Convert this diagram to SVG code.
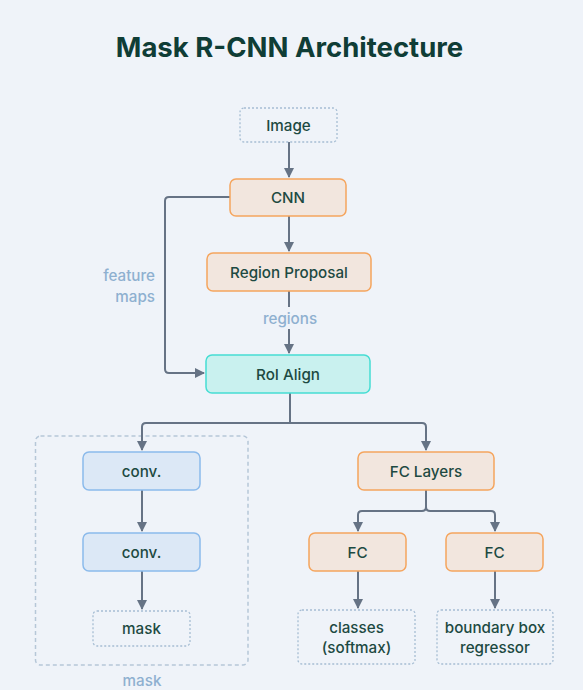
<svg xmlns="http://www.w3.org/2000/svg" width="583" height="690" viewBox="0 0 583 690">
<defs>
<style>
.bg{fill:#eff3f9}
.title{font-family:Inter,"Noto Sans",sans-serif;font-size:27.5px;font-weight:700;fill:#0f3d36;text-anchor:middle}
.t{font-family:Inter,"Noto Sans",sans-serif;font-size:15.2px;font-weight:500;fill:#1d4a42;text-anchor:middle;dominant-baseline:central}
.lbl{font-family:Inter,"Noto Sans",sans-serif;font-size:15.2px;font-weight:500;fill:#8eb0d0;dominant-baseline:central}
.orange{fill:#f2e6de;stroke:#f5a55e;stroke-width:1.5}
.cyan{fill:#c9f1ef;stroke:#45ddd3;stroke-width:1.5}
.blue{fill:#dce8f6;stroke:#8bbaeb;stroke-width:1.5}
.dot{fill:none;stroke:#a6bdd3;stroke-width:1.3;stroke-dasharray:2 2}
.group{fill:none;stroke:#b6c7d8;stroke-width:1.5;stroke-dasharray:4 3}
.e{fill:none;stroke:#667385;stroke-width:2}
</style>
<marker id="arr" viewBox="0 0 10 10" refX="9" refY="5" markerWidth="5" markerHeight="5" orient="auto" markerUnits="strokeWidth">
<path d="M0,0 L10,5 L0,10 z" fill="#667385"/>
</marker>
</defs>
<rect class="bg" x="0" y="0" width="583" height="690"/>
<text class="title" x="289.5" y="57">Mask R-CNN Architecture</text>

<g id="mask-group">
<rect class="group" x="35.5" y="436" width="212.5" height="229" rx="5"/>
<text class="lbl" x="142" y="680" text-anchor="middle">mask</text>
</g>

<g id="connectors">
<path class="e" d="M289 142 V177" marker-end="url(#arr)"/>
<path class="e" d="M289 216 V251" marker-end="url(#arr)"/>
<path class="e" d="M289 291 V353" marker-end="url(#arr)"/>
<path class="e" d="M230 197 H169 Q165 197 165 201 V369 Q165 373 169 373 H204" marker-end="url(#arr)"/>
<path class="e" d="M290 393 V423 H146 Q142 423 142 427 V450" marker-end="url(#arr)"/>
<path class="e" d="M290 423 H422 Q426 423 426 427 V450" marker-end="url(#arr)"/>
<path class="e" d="M142 490 V531" marker-end="url(#arr)"/>
<path class="e" d="M142 571 V609" marker-end="url(#arr)"/>
<path class="e" d="M426 490 V507 Q426 511 422 511 H362 Q358 511 358 515 V531" marker-end="url(#arr)"/>
<path class="e" d="M426 507 Q426 511 430 511 H491 Q495 511 495 515 V531" marker-end="url(#arr)"/>
<path class="e" d="M358 571 V608" marker-end="url(#arr)"/>
<path class="e" d="M495 571 V608" marker-end="url(#arr)"/>
<text class="lbl" x="155" y="275" text-anchor="end">feature</text>
<text class="lbl" x="155" y="296" text-anchor="end">maps</text>
<rect x="255" y="307" width="70" height="22" fill="#eff3f9"/>
<text class="lbl" x="290" y="318" text-anchor="middle">regions</text>
</g>

<g id="image"><rect class="dot" x="240" y="108" width="97" height="34" rx="4"/><text class="t" x="288.5" y="125">Image</text></g>
<g id="cnn"><rect class="orange" x="230" y="179" width="116" height="37" rx="6"/><text class="t" x="288" y="197.5">CNN</text></g>
<g id="region-proposal"><rect class="orange" x="207" y="253" width="164" height="38" rx="6"/><text class="t" x="289" y="272">Region Proposal</text></g>
<g id="roi-align"><rect class="cyan" x="206" y="355" width="164" height="38" rx="6"/><text class="t" x="288" y="374">RoI Align</text></g>
<g id="conv1"><rect class="blue" x="83" y="452" width="117" height="38" rx="6"/><text class="t" x="141.5" y="471">conv.</text></g>
<g id="conv2"><rect class="blue" x="83" y="533" width="117" height="38" rx="6"/><text class="t" x="141.5" y="552">conv.</text></g>
<g id="mask"><rect class="dot" x="93" y="611" width="97" height="35" rx="4"/><text class="t" x="141.5" y="628.5">mask</text></g>
<g id="fc-layers"><rect class="orange" x="358" y="452" width="136" height="38" rx="6"/><text class="t" x="426" y="471">FC Layers</text></g>
<g id="fc1"><rect class="orange" x="309" y="533" width="97" height="38" rx="6"/><text class="t" x="357.5" y="552">FC</text></g>
<g id="fc2"><rect class="orange" x="446" y="533" width="97" height="38" rx="6"/><text class="t" x="494.5" y="552">FC</text></g>
<g id="classes"><rect class="dot" x="298" y="610" width="117" height="54" rx="4"/><text class="t" x="356.5" y="627">classes</text><text class="t" x="356.5" y="647">(softmax)</text></g>
<g id="bbox"><rect class="dot" x="437" y="610" width="116" height="54" rx="4"/><text class="t" x="495" y="627">boundary box</text><text class="t" x="495" y="647">regressor</text></g>
</svg>
